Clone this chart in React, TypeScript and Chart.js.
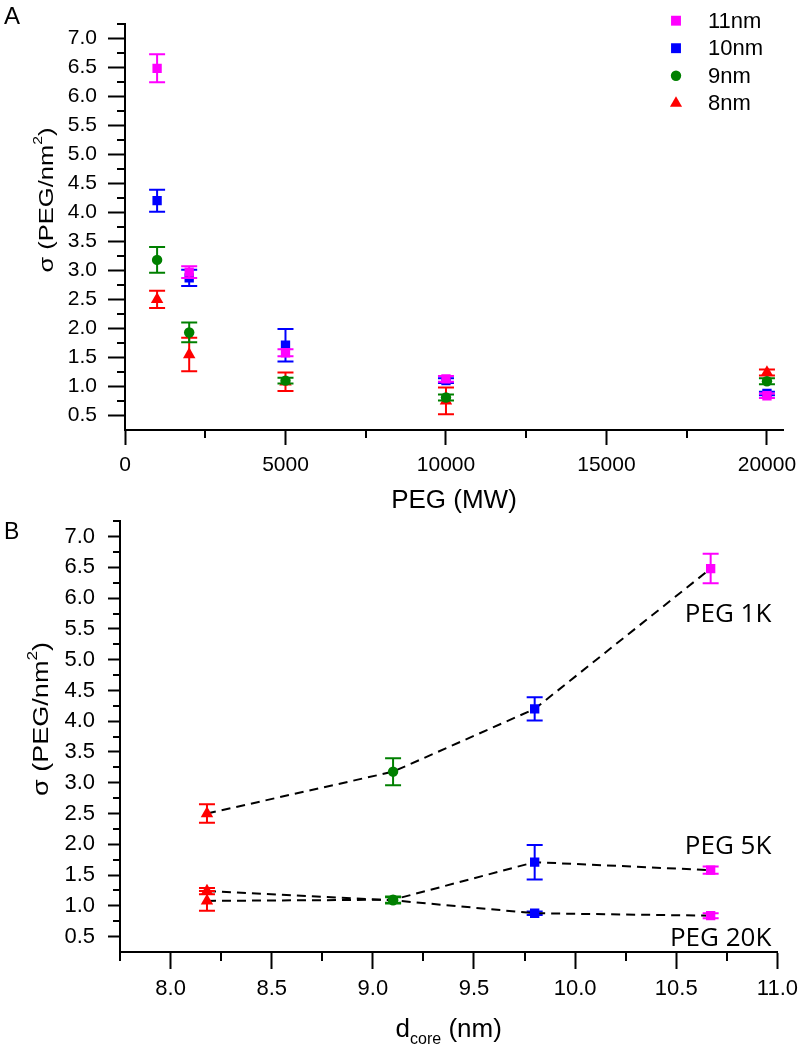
import React, { useEffect, useRef } from 'react';
import { Chart, registerables } from 'chart.js';

Chart.register(...registerables);

const FONT = '"Liberation Sans", Arial, Helvetica, sans-serif';
const LABEL_FONT = '"Open Sans", "Noto Sans", sans-serif';

const MAGENTA = '#ff00ff';
const BLUE = '#0000ff';
const GREEN = '#008000';
const RED = '#ff0000';

// ---------------- data ----------------
const pegMW = [1000, 2000, 5000, 10000, 20000];

const sigma11nm = [6.48, 2.97, 1.58, 1.13, 0.84];
const err11nm = [0.24, 0.1, 0.06, 0.05, 0.04];
const sigma10nm = [4.2, 2.87, 1.71, 1.1, 0.88];
const err10nm = [0.19, 0.14, 0.28, 0.04, 0.03];
const sigma9nm = [3.18, 1.93, 1.1, 0.81, 1.09];
const err9nm = [0.22, 0.17, 0.05, 0.05, 0.05];
const sigma8nm = [2.5, 1.55, 1.08, 0.75, 1.24];
const err8nm = [0.15, 0.29, 0.16, 0.23, 0.05];

const sizeLabels = ['11nm', '10nm', '9nm', '8nm'];
// core diameters (nm) for 8, 9, 10, 11 nm particles
const coreSize = [8.18, 9.1, 9.8, 10.67];

const pegSeries = ['PEG 1K', 'PEG 5K', 'PEG 20K'];
const pegSeriesColumn = [0, 2, 4]; // index into pegMW
const pegLabelX = 10.97;
const pegLabelY = [5.62, 1.845, 0.35];

const yTickValues = [0.5, 1.0, 1.5, 2.0, 2.5, 3.0, 3.5, 4.0, 4.5, 5.0, 5.5, 6.0, 6.5, 7.0];
const yMinorValues = [0.75, 1.25, 1.75, 2.25, 2.75, 3.25, 3.75, 4.25, 4.75, 5.25, 5.75, 6.25, 6.75, 7.25];
const topXTickValues = [0, 5000, 10000, 15000, 20000];
const topXMinorValues = [2500, 7500, 12500, 17500];
const bottomXTickValues = [8.0, 8.5, 9.0, 9.5, 10.0, 10.5, 11.0];
const bottomXMinorValues = [7.75, 8.25, 8.75, 9.25, 9.75, 10.25, 10.75];

// ---------------- styles ----------------
type Marker = { style: string; color: string; radius: number };
const marker11: Marker = { style: 'rect', color: MAGENTA, radius: 6.6 };
const marker10: Marker = { style: 'rect', color: BLUE, radius: 6.6 };
const marker9: Marker = { style: 'circle', color: GREEN, radius: 5.2 };
const marker8: Marker = { style: 'triangle', color: RED, radius: 7.2 };

const topSeries = [
  { label: sizeLabels[0], values: sigma11nm, errors: err11nm, m: marker11 },
  { label: sizeLabels[1], values: sigma10nm, errors: err10nm, m: marker10 },
  { label: sizeLabels[2], values: sigma9nm, errors: err9nm, m: marker9 },
  { label: sizeLabels[3], values: sigma8nm, errors: err8nm, m: marker8 },
];
// order along the core-size axis: 8, 9, 10, 11 nm
const bySize = [topSeries[3], topSeries[2], topSeries[1], topSeries[0]];

// ---------------- drawing helpers ----------------
function drawShape(ctx: CanvasRenderingContext2D, style: string, x: number, y: number, r: number, color: string) {
  ctx.save();
  ctx.fillStyle = color;
  ctx.beginPath();
  if (style === 'rect') {
    const s = Math.SQRT1_2 * r;
    ctx.rect(x - s, y - s, 2 * s, 2 * s);
  } else if (style === 'circle') {
    ctx.arc(x, y, r, 0, Math.PI * 2);
  } else {
    const a = (2 * Math.PI) / 3;
    ctx.moveTo(x, y - r);
    ctx.lineTo(x + Math.sin(a) * r, y - Math.cos(a) * r);
    ctx.lineTo(x + Math.sin(2 * a) * r, y - Math.cos(2 * a) * r);
    ctx.closePath();
  }
  ctx.fill();
  ctx.restore();
}

function drawYTitle(ctx: CanvasRenderingContext2D, cx: number, cy: number, size: number, targetLen: number) {
  ctx.save();
  ctx.translate(cx, cy);
  ctx.rotate(-Math.PI / 2);
  const main = `${size}px ${FONT}`;
  const sup = `${Math.round(size * 0.62)}px ${FONT}`;
  ctx.font = main;
  const w1 = ctx.measureText('σ (PEG/nm').width;
  const w3 = ctx.measureText(')').width;
  ctx.font = sup;
  const w2 = ctx.measureText('2').width;
  const total = w1 + w2 + w3;
  const k = targetLen / total;
  ctx.scale(k, 1);
  let x = -total / 2;
  ctx.fillStyle = '#000';
  ctx.textAlign = 'left';
  ctx.textBaseline = 'middle';
  ctx.font = main;
  ctx.fillText('σ (PEG/nm', x, 0);
  x += w1;
  ctx.font = sup;
  ctx.fillText('2', x, -size * 0.42);
  x += w2;
  ctx.font = main;
  ctx.fillText(')', x, 0);
  ctx.restore();
}

function drawXTitleSub(ctx: CanvasRenderingContext2D, cx: number, cy: number, size: number) {
  ctx.save();
  const main = `${size}px ${FONT}`;
  const sub = `${Math.round(size * 0.6)}px ${FONT}`;
  ctx.font = main;
  const w1 = ctx.measureText('d').width;
  const w3 = ctx.measureText(' (nm)').width;
  ctx.font = sub;
  const w2 = ctx.measureText('core').width;
  let x = cx - (w1 + w2 + w3) / 2;
  ctx.fillStyle = '#000';
  ctx.textAlign = 'left';
  ctx.textBaseline = 'middle';
  ctx.font = main;
  ctx.fillText('d', x, cy);
  x += w1;
  ctx.font = sub;
  ctx.fillText('core', x, cy + size * 0.36);
  x += w2;
  ctx.font = main;
  ctx.fillText(' (nm)', x, cy);
  ctx.restore();
}

function drawMinorTicks(chart: any, xVals: number[], yVals: number[], xLen: number, yLen: number) {
  const ctx = chart.ctx as CanvasRenderingContext2D;
  const xs = chart.scales.x;
  const ys = chart.scales.y;
  ctx.save();
  ctx.strokeStyle = '#000';
  ctx.lineWidth = 2;
  ctx.beginPath();
  xVals.forEach((v) => {
    const px = Math.round(xs.getPixelForValue(v));
    ctx.moveTo(px, xs.top);
    ctx.lineTo(px, xs.top + xLen);
  });
  yVals.forEach((v) => {
    const py = Math.round(ys.getPixelForValue(v));
    ctx.moveTo(ys.right - yLen, py);
    ctx.lineTo(ys.right, py);
  });
  ctx.stroke();
  ctx.restore();
}

const errorBarPlugin = {
  id: 'errorBars',
  beforeDatasetDraw(chart: any, args: any) {
    const ds: any = chart.data.datasets[args.index];
    if (!ds.errors) return;
    const ctx = chart.ctx as CanvasRenderingContext2D;
    const ys = chart.scales.y;
    ctx.save();
    ctx.lineWidth = 2;
    ctx.setLineDash([]);
    args.meta.data.forEach((pt: any, i: number) => {
      const raw = ds.data[i];
      const e = ds.errors[i];
      const color = Array.isArray(ds.errorColor) ? ds.errorColor[i] : ds.errorColor;
      const top = ys.getPixelForValue(raw.y + e);
      const bot = ys.getPixelForValue(raw.y - e);
      const x = pt.x;
      ctx.strokeStyle = color;
      ctx.beginPath();
      ctx.moveTo(x, top);
      ctx.lineTo(x, bot);
      ctx.moveTo(x - 8, top);
      ctx.lineTo(x + 8, top);
      ctx.moveTo(x - 8, bot);
      ctx.lineTo(x + 8, bot);
      ctx.stroke();
    });
    ctx.restore();
  },
};

function setTicks(values: number[]) {
  return (scale: any) => {
    scale.ticks = values.map((v) => ({ value: v }));
  };
}

function makeScales(o: {
  xMin: number; xMax: number; xTicks: number[]; xFmt: (v: number) => string; xSize: number; xTick: number; xPad: number; xHeight: number;
  yMin: number; yMax: number; yTicks: number[]; ySize: number; yTick: number; yPad: number; yWidth: number;
}) {
  return {
    x: {
      type: 'linear',
      min: o.xMin,
      max: o.xMax,
      afterBuildTicks: setTicks(o.xTicks),
      afterFit: (s: any) => { s.height = o.xHeight; },
      ticks: {
        font: { family: FONT, size: o.xSize },
        color: '#000',
        padding: o.xPad,
        maxRotation: 0,
        autoSkip: false,
        callback: (v: any) => o.xFmt(Number(v)),
      },
      grid: { drawOnChartArea: false, drawTicks: true, tickLength: o.xTick, tickColor: '#000', tickWidth: 2 },
      border: { display: true, color: '#000', width: 2 },
    },
    y: {
      type: 'linear',
      min: o.yMin,
      max: o.yMax,
      afterBuildTicks: setTicks(o.yTicks),
      afterFit: (s: any) => { s.width = o.yWidth; },
      ticks: {
        font: { family: FONT, size: o.ySize },
        color: '#000',
        padding: o.yPad,
        autoSkip: false,
        callback: (v: any) => Number(v).toFixed(1),
      },
      grid: { drawOnChartArea: false, drawTicks: true, tickLength: o.yTick, tickColor: '#000', tickWidth: 2 },
      border: { display: true, color: '#000', width: 2 },
    },
  };
}

// ---------------- charts ----------------
function topConfig(): any {
  const decor = {
    id: 'decorTop',
    afterDraw(chart: any) {
      const ctx = chart.ctx as CanvasRenderingContext2D;
      drawMinorTicks(chart, topXMinorValues, yMinorValues, 8, 8);
      drawYTitle(ctx, 47, 200, 21, 145);
      ctx.save();
      ctx.fillStyle = '#000';
      ctx.textAlign = 'center';
      ctx.textBaseline = 'middle';
      ctx.font = `26px ${FONT}`;
      const ca = chart.chartArea;
      ctx.fillText('PEG (MW)', (ca.left + ca.right) / 2, 501);
      ctx.textAlign = 'left';
      ctx.textBaseline = 'alphabetic';
      ctx.font = `24px ${FONT}`;
      ctx.fillText('A', 4, 24);
      // legend
      ctx.font = `22px ${FONT}`;
      ctx.textBaseline = 'middle';
      topSeries.forEach((s, i) => {
        const y = 20.7 + i * 27.5;
        const r = s.m.style === 'rect' ? 7 : s.m.style === 'circle' ? 5.2 : 7;
        drawShape(ctx, s.m.style, 676, y, r, s.m.color);
        ctx.fillStyle = '#000';
        ctx.fillText(s.label, 708, y + 1);
      });
      ctx.restore();
    },
  };
  return {
    type: 'scatter',
    data: {
      datasets: topSeries.map((s) => ({
        label: s.label,
        data: pegMW.map((x, i) => ({ x, y: s.values[i] })),
        errors: s.errors,
        errorColor: s.m.color,
        pointStyle: s.m.style,
        pointRadius: s.m.radius,
        pointBackgroundColor: s.m.color,
        pointBorderWidth: 0,
        backgroundColor: s.m.color,
        borderColor: s.m.color,
        showLine: false,
      })),
    },
    options: {
      animation: false,
      responsive: false,
      events: [],
      layout: { padding: { top: 5, right: 22, left: 0, bottom: 0 } },
      plugins: { legend: { display: false }, tooltip: { enabled: false } },
      scales: makeScales({
        xMin: 0, xMax: 20500, xTicks: topXTickValues, xFmt: (v) => String(v), xSize: 21, xTick: 15, xPad: 8, xHeight: 90,
        yMin: 0.25, yMax: 7.25, yTicks: yTickValues, ySize: 21, yTick: 17, yPad: 11, yWidth: 125,
      }),
    },
    plugins: [errorBarPlugin, decor],
  };
}

function bottomConfig(): any {
  const decor = {
    id: 'decorBottom',
    afterDraw(chart: any) {
      const ctx = chart.ctx as CanvasRenderingContext2D;
      drawMinorTicks(chart, bottomXMinorValues, yMinorValues, 9, 7);
      drawYTitle(ctx, 42, 224, 22, 154);
      const ca = chart.chartArea;
      drawXTitleSub(ctx, (ca.left + ca.right) / 2, 535, 26);
      ctx.save();
      ctx.fillStyle = '#000';
      ctx.textAlign = 'left';
      ctx.textBaseline = 'alphabetic';
      ctx.font = `23px ${FONT}`;
      ctx.fillText('B', 4, 44);
      ctx.restore();
    },
    afterDatasetsDraw(chart: any) {
      const ctx = chart.ctx as CanvasRenderingContext2D;
      const xs = chart.scales.x;
      const ys = chart.scales.y;
      ctx.save();
      ctx.fillStyle = '#000';
      ctx.textAlign = 'right';
      ctx.textBaseline = 'alphabetic';
      ctx.font = `26px ${LABEL_FONT}`;
      pegSeries.forEach((label, k) => {
        ctx.fillText(label, xs.getPixelForValue(pegLabelX), ys.getPixelForValue(pegLabelY[k]));
      });
      ctx.restore();
    },
  };
  return {
    type: 'line',
    data: {
      datasets: pegSeries.map((label, k) => {
        const col = pegSeriesColumn[k];
        return {
          label,
          data: bySize.map((s, j) => ({ x: coreSize[j], y: s.values[col] })),
          errors: bySize.map((s) => s.errors[col]),
          errorColor: bySize.map((s) => s.m.color),
          borderColor: '#000',
          borderWidth: 2,
          borderDash: [9, 6],
          fill: false,
          tension: 0,
          pointStyle: bySize.map((s) => s.m.style),
          pointRadius: bySize.map((s) => s.m.radius),
          pointBackgroundColor: bySize.map((s) => s.m.color),
          pointBorderWidth: 0,
        };
      }),
    },
    options: {
      animation: false,
      responsive: false,
      events: [],
      layout: { padding: { top: 20, right: 25, left: 0, bottom: 0 } },
      plugins: { legend: { display: false }, tooltip: { enabled: false } },
      scales: makeScales({
        xMin: 7.75, xMax: 11.0, xTicks: bottomXTickValues, xFmt: (v) => v.toFixed(1), xSize: 22, xTick: 17, xPad: 7, xHeight: 98,
        yMin: 0.25, yMax: 7.25, yTicks: yTickValues, ySize: 22, yTick: 12, yPad: 13, yWidth: 120,
      }),
    },
    plugins: [errorBarPlugin, decor],
  };
}

function ChartCanvas({ top, height, make }: { top: number; height: number; make: () => any }) {
  const ref = useRef<HTMLCanvasElement | null>(null);
  useEffect(() => {
    if (!ref.current) return;
    const chart = new Chart(ref.current, make());
    return () => chart.destroy();
  }, []);
  return (
    <canvas
      ref={ref}
      width={805}
      height={height}
      style={{ position: 'absolute', left: 0, top, width: 805, height }}
    />
  );
}

export default function App() {
  return (
    <div style={{ position: 'absolute', left: 0, top: 0, width: 805, height: 1050, background: '#fff' }}>
      <ChartCanvas top={0} height={520} make={topConfig} />
      <ChartCanvas top={495} height={555} make={bottomConfig} />
    </div>
  );
}
